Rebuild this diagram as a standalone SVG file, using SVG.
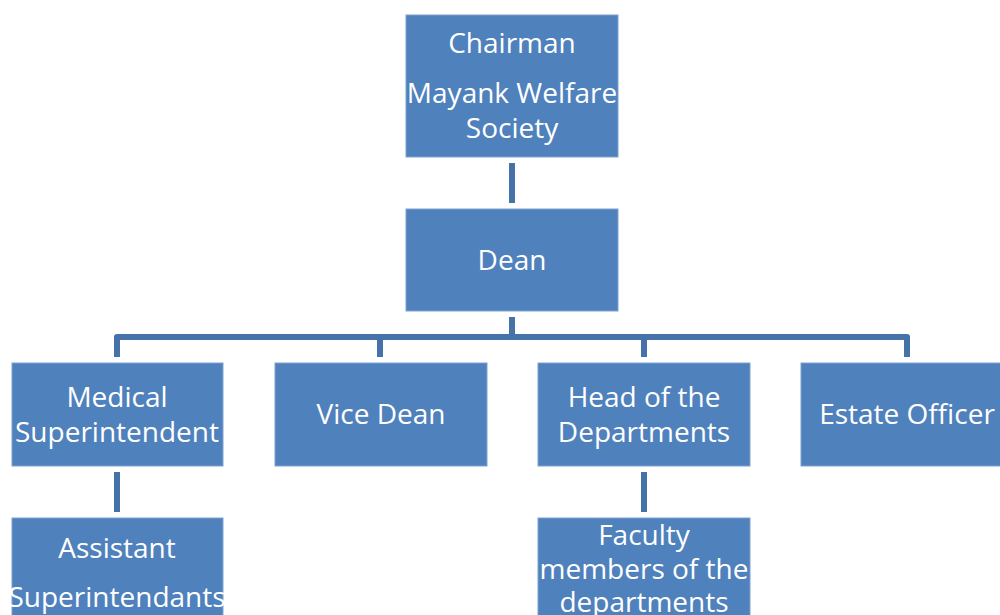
<svg xmlns="http://www.w3.org/2000/svg" width="1000" height="615" viewBox="0 0 1000 615">
<style>
.box{fill:#4F81BD;stroke:#7FA2D0;stroke-width:1}
.t{font-family:"Open Sans","Noto Sans",sans-serif;font-size:28px;fill:#FFFFFF;text-anchor:middle}
.c{fill:none;stroke:#4672AA;stroke-width:6;stroke-linejoin:round}
</style>
<rect width="1000" height="615" fill="#FFFFFF"/>
<g id="connectors">
<path class="c" d="M512 163V203"/>
<path class="c" d="M512 317V337M117 357V337H907V357M380 337V357M644 337V357"/>
<path class="c" d="M117 472V512"/>
<path class="c" d="M644 472V512"/>
</g>
<g id="chairman"><rect class="box" x="406" y="15" width="212" height="142"/>
<text class="t" x="512" y="53">Chairman</text><text class="t" x="512" y="103">Mayank Welfare</text><text class="t" x="512" y="138">Society</text></g>
<g id="dean"><rect class="box" x="406" y="209" width="212" height="102"/><text class="t" x="512" y="270">Dean</text></g>
<g id="medical"><rect class="box" x="12" y="363" width="211" height="103"/><text class="t" x="117" y="407">Medical</text><text class="t" x="117" y="442">Superintendent</text></g>
<g id="vicedean"><rect class="box" x="275" y="363" width="212" height="103"/><text class="t" x="381" y="424">Vice Dean</text></g>
<g id="hod"><rect class="box" x="538" y="363" width="212" height="103"/><text class="t" x="644" y="407">Head of the</text><text class="t" x="644" y="442">Departments</text></g>
<g id="estate"><rect class="box" x="801" y="363" width="212" height="103"/><text class="t" x="907" y="424">Estate Officer</text></g>
<g id="assistant"><rect class="box" x="12" y="518" width="211" height="110"/><text class="t" x="117" y="558">Assistant</text><text class="t" x="117" y="607">Superintendants</text></g>
<g id="faculty"><rect class="box" x="538" y="518" width="212" height="110"/><text class="t" x="644" y="545">Faculty</text><text class="t" x="644" y="579">members of the</text><text class="t" x="644" y="612">departments</text></g>
</svg>
